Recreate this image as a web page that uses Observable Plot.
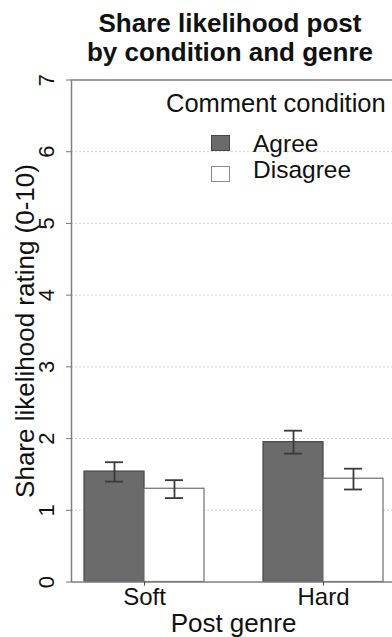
<!DOCTYPE html>
<html>
<head>
<meta charset="utf-8">
<script src="https://cdn.jsdelivr.net/npm/d3@7"></script>
<script src="https://cdn.jsdelivr.net/npm/@observablehq/plot@0.6"></script>
<style>
  body { margin: 0; background: #fff; font-family: "Liberation Sans", Arial, Helvetica, sans-serif; }
  #wrap { position: relative; width: 392px; height: 637px; overflow: hidden; background: #fff; }
  #wrap svg { position: absolute; left: 0; top: 0; }
  .t { position: absolute; white-space: nowrap; line-height: 1; color: #111; }
  .title { left: 0; width: 460px; text-align: center; font-weight: bold; font-size: 26px; }
  .sw { position: absolute; box-sizing: border-box; width: 19px; height: 16px; }
</style>
</head>
<body>
<div id="wrap"></div>
<script>
// ---- data ----
const genres = ["Soft", "Hard"];
const conditions = ["Agree", "Disagree"];
const agreeMean = [1.54, 1.95];
const agreeLow = [1.40, 1.79];
const agreeHigh = [1.67, 2.11];
const disagreeMean = [1.30, 1.44];
const disagreeLow = [1.17, 1.29];
const disagreeHigh = [1.42, 1.58];
const yTicks = [0, 1, 2, 3, 4, 5, 6, 7];
const titleLines = ["Share likelihood post", "by condition and genre"];
const yLabel = "Share likelihood rating (0-10)";
const xLabel = "Post genre";
const legendTitle = "Comment condition";
const barFill = ["#6b6b6b", "#ffffff"];
const barStroke = ["#474747", "#6e6e6e"];
const swatchStroke = ["#474747", "#8a8a8a"];

const series = {
  Agree: {mean: agreeMean, lo: agreeLow, hi: agreeHigh},
  Disagree: {mean: disagreeMean, lo: disagreeLow, hi: disagreeHigh}
};
const rows = [];
genres.forEach((g, i) => {
  conditions.forEach(c => {
    rows.push({genre: g, condition: c, mean: series[c].mean[i], lo: series[c].lo[i], hi: series[c].hi[i]});
  });
});

const W = 392, H = 637;
const M = {top: 79.5, bottom: 55.5, left: 71, right: -3};
const xOpts = {type: "band", domain: genres, paddingInner: 0.33, paddingOuter: 0.07};
// band width of each genre group, from Plot's own band scale
const bw = Plot.scale({x: {...xOpts, range: [M.left, W - M.right]}}).bandwidth;
const half = bw / 2, quarter = bw / 4, cap = 9;
const errStroke = "#3a3a3a";

const chart = Plot.plot({
  width: W,
  height: H,
  marginTop: M.top,
  marginBottom: M.bottom,
  marginLeft: M.left,
  marginRight: M.right,
  style: {fontFamily: '"Liberation Sans", Arial, Helvetica, sans-serif', fontSize: "22px", color: "#111", background: "transparent"},
  x: {...xOpts, axis: null},
  y: {domain: [0, 7], axis: null},
  marks: [
    Plot.gridY(yTicks.slice(1, -1), {stroke: "#d2d2d2", strokeOpacity: 1, strokeDasharray: "2,2"}),
    ...conditions.map((c, k) => Plot.barY(rows, {
      filter: d => d.condition === c,
      x: "genre", y: "mean",
      insetLeft: k === 0 ? 0 : half, insetRight: k === 0 ? half : 0,
      fill: barFill[k], stroke: barStroke[k], strokeWidth: 1.2
    })),
    ...conditions.map((c, k) => Plot.ruleX(rows, {
      filter: d => d.condition === c,
      x: "genre", y1: "lo", y2: "hi", dx: (k === 0 ? -1 : 1) * quarter,
      stroke: errStroke, strokeWidth: 1.8
    })),
    ...conditions.flatMap((c, k) => ["lo", "hi"].map(key => Plot.tickY(rows, {
      filter: d => d.condition === c,
      x: "genre", y: key,
      insetLeft: k === 0 ? quarter - cap : half + quarter - cap,
      insetRight: k === 0 ? half + quarter - cap : quarter - cap,
      stroke: errStroke, strokeWidth: 1.8
    }))),
    Plot.frame({stroke: "#808080", strokeWidth: 1.5}),
    Plot.axisY(yTicks, {anchor: "left", tickSize: 5, tickPadding: 13, tickRotate: -90, tickFormat: d => String(d), fontSize: 22, stroke: "#777", fill: "#111", label: null}),
    Plot.axisX(genres, {anchor: "bottom", tickSize: 4, tickPadding: 2, fontSize: 24, stroke: "#444", fill: "#111", label: null}),
    Plot.text([yLabel], {frameAnchor: "left", text: d => d, rotate: -90, dx: -46, fontSize: 26, textAnchor: "middle", lineAnchor: "middle", fill: "#111"}),
    Plot.text([xLabel], {frameAnchor: "bottom", text: d => d, textAnchor: "middle", lineAnchor: "bottom", dy: 50, fontSize: 26, fill: "#111"})
  ]
});

const wrap = document.getElementById("wrap");
wrap.appendChild(chart);

function addText(txt, cls, left, top, size) {
  const d = document.createElement("div");
  d.className = "t " + cls;
  d.textContent = txt;
  if (left !== null) d.style.left = left + "px";
  d.style.top = top + "px";
  if (size) d.style.fontSize = size + "px";
  wrap.appendChild(d);
  return d;
}
// title
addText(titleLines[0], "title", null, 10, null);
addText(titleLines[1], "title", null, 38.5, null);
// legend
addText(legendTitle, "", 166, 91.4, 25.5);
const legendTops = [132.3, 158.3];
const swTops = [135, 165.5];
conditions.forEach((c, k) => {
  const s = document.createElement("div");
  s.className = "sw";
  s.style.left = "211px";
  s.style.top = swTops[k] + "px";
  s.style.background = barFill[k];
  s.style.border = "1.5px solid " + swatchStroke[k];
  wrap.appendChild(s);
  addText(c, "", 253, legendTops[k], 24.5);
});
</script>
</body>
</html>
